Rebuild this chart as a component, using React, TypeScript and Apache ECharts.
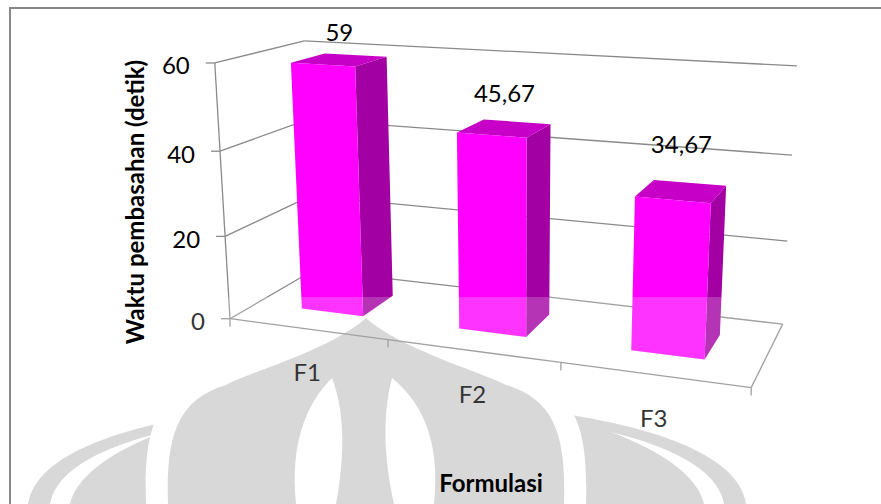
import React, { useEffect, useRef } from "react";
import * as echarts from "echarts";

// ---------- data ----------
const categories = ["F1", "F2", "F3"];
const values = [59, 45.67, 34.67];
const yTicks = [0, 20, 40, 60];
const yMax = 60;
const xTitle = "Formulasi";
const yTitle = "Waktu pembasahan (detik)";

// ---------- 3D camera calibration (normalized box corners -> screen px) ----------
// [X (0..1 along categories), Y (0..1 of value range), Z (0 front .. 1 back), u, v]
const CALIB: number[][] = [
  [0, 0, 0, 230, 319],
  [0, 1, 0, 217, 63],
  [0, 2 / 3, 0, 219, 151],
  [0, 1 / 3, 0, 224, 236],
  [0, 0, 1, 315, 270],
  [0, 1, 1, 303, 41],
  [1, 1, 1, 797, 66],
  [1, 2 / 3, 1, 792, 155],
  [1, 1 / 3, 1, 788, 241],
  [1, 0, 1, 782, 324],
  [1, 0, 0, 751, 388],
  [1 / 3, 0, 0, 388, 340],
  [2 / 3, 0, 0, 561, 362],
];

const BAR_WIDTH = 0.4; // fraction of a category band
const BAR_Z0 = 0.3;
const BAR_Z1 = 0.7;

function solveProjection(pts: number[][]) {
  const n = 11;
  const M = Array.from({ length: n }, () => new Array(n + 1).fill(0));
  const addRow = (row: number[], r: number) => {
    for (let i = 0; i < n; i++) {
      for (let j = 0; j < n; j++) M[i][j] += row[i] * row[j];
      M[i][n] += row[i] * r;
    }
  };
  for (const [X, Y, Z, u, v] of pts) {
    addRow([X, Y, Z, 1, 0, 0, 0, 0, -u * X, -u * Y, -u * Z], u);
    addRow([0, 0, 0, 0, X, Y, Z, 1, -v * X, -v * Y, -v * Z], v);
  }
  for (let c = 0; c < n; c++) {
    let p = c;
    for (let r = c + 1; r < n; r++) if (Math.abs(M[r][c]) > Math.abs(M[p][c])) p = r;
    const tmp = M[c]; M[c] = M[p]; M[p] = tmp;
    for (let r = 0; r < n; r++) {
      if (r === c) continue;
      const f = M[r][c] / M[c][c];
      for (let j = c; j <= n; j++) M[r][j] -= f * M[c][j];
    }
  }
  return M.map((row, i) => row[n] / row[i]);
}
const PM = solveProjection(CALIB);
function proj(X: number, Y: number, Z: number): number[] {
  const w = PM[8] * X + PM[9] * Y + PM[10] * Z + 1;
  return [
    (PM[0] * X + PM[1] * Y + PM[2] * Z + PM[3]) / w,
    (PM[4] * X + PM[5] * Y + PM[6] * Z + PM[7]) / w,
  ];
}

const LINE = "#8a8a8a";
const FONT = "Lato";

// ---------- watermark shapes ----------
const WM: { name: string; d: string; fill: string }[] = [
  { name: "wmL3", d: "M28 504 C38 440 180 405 387 400 C594 405 736 440 746 504 Z", fill: "#cfcfcf" },
  { name: "wmG2", d: "M50 504 C60 445 195 412 387 408 C579 412 714 445 724 504 Z", fill: "#ffffff" },
  { name: "wmL2", d: "M70 504 C82 450 210 400 387 392 C564 400 692 450 704 504 Z", fill: "#cfcfcf" },
  { name: "wmG1", d: "M146 504 C144 436 152 392 210 374 C236 362 318 330 366 296 C414 330 496 362 522 374 C580 392 588 436 586 504 Z", fill: "#ffffff" },
  { name: "wmD1", d: "M168 504 C166 440 175 400 226 385 C250 372 330 350 366 318 C402 350 482 372 506 385 C557 400 566 440 564 504 Z", fill: "#cfcfcf" },
  { name: "wmW1", d: "M332 378 C305 405 290 445 296 504 L336 504 C344 460 346 415 332 378 Z", fill: "#ffffff" },
  { name: "wmW2", d: "M392 378 C382 415 384 460 394 504 L434 504 C440 445 425 405 392 378 Z", fill: "#ffffff" },
];
let registered = false;
function registerWM() {
  if (registered) return;
  registered = true;
  for (const s of WM) {
    echarts.graphic.registerShape(s.name, echarts.graphic.extendPath(s.d, {}) as any);
  }
}

function fmt(v: number) {
  return String(v).replace(".", ",");
}

export default function App() {
  const ref = useRef<HTMLDivElement>(null);
  useEffect(() => {
    if (!ref.current) return;
    registerWM();
    const chart = echarts.init(ref.current, undefined, { renderer: "svg" });

    const norm = (params: any, api: any, cat: number, val: number) => {
      const cs = params.coordSys;
      const c = api.coord([cat, val]);
      const b = api.coord([cat, 0]);
      return { X: (c[0] - cs.x) / cs.width, Y: (b[1] - c[1]) / cs.height, px: c, cs };
    };

    const option: any = {
      animation: false,
      backgroundColor: "#ffffff",
      grid: { left: 100, width: 600, top: 26.4, height: 276.2, show: false },
      xAxis: { type: "category", data: categories, show: false },
      yAxis: { type: "value", min: 0, max: yMax, interval: 20, show: false },
      graphic: [
        ...WM.map((s) => ({ type: s.name, x: 0, y: 0, z: 0, silent: true, style: { fill: s.fill } })),
        {
          type: "rect", z: 50, silent: true,
          shape: { x: 0, y: 297, width: 861, height: 220 },
          style: { fill: "rgba(255,255,255,0.2)" },
        },
        {
          type: "rect", z: 60, silent: true,
          shape: { x: 10, y: 8, width: 1000, height: 1000 },
          style: { fill: "none", stroke: "#878787", lineWidth: 2 },
        },
        {
          type: "text", z: 60, x: 134, y: 202, rotation: Math.PI / 2,
          style: { text: yTitle, fill: "#000", font: `bold 24px ${FONT}`, textAlign: "center", textVerticalAlign: "middle" },
        },
        {
          type: "text", z: 60, x: 491, y: 482,
          style: { text: xTitle, fill: "#000", font: `bold 24px ${FONT}`, textAlign: "center", textVerticalAlign: "middle" },
        },
      ],
      series: [
        {
          // walls: gridlines, value axis, ticks & labels
          type: "custom", z: 2, clip: false,
          data: yTicks.map((t) => [0, t]),
          renderItem: (params: any, api: any) => {
            const t = api.value(1);
            const { Y } = norm(params, api, 0, t);
            const band = api.size([1, 0])[0];
            const X0 = 0;
            void band;
            const f = proj(X0, Y, 0);
            const bl = proj(X0, Y, 1);
            const br = proj(1, Y, 1);
            const children: any[] = [
              { type: "line", shape: { x1: f[0], y1: f[1], x2: bl[0], y2: bl[1] }, style: { stroke: LINE, lineWidth: 1.3 } },
              { type: "line", shape: { x1: bl[0], y1: bl[1], x2: br[0], y2: br[1] }, style: { stroke: LINE, lineWidth: 1.3 } },
              { type: "line", shape: { x1: f[0] - 9, y1: f[1], x2: f[0], y2: f[1] }, style: { stroke: LINE, lineWidth: 1.3 } },
              {
                type: "text",
                style: { text: String(t), x: f[0] - 25, y: f[1] + 2, fill: "#000", font: `24px ${FONT}`, textAlign: "right", textVerticalAlign: "middle" },
              },
            ];
            if (t === 0) {
              const topY = norm(params, api, 0, yMax).Y;
              const a = proj(0, 0, 0);
              const b = proj(0, topY, 0);
              children.push({ type: "line", shape: { x1: a[0], y1: a[1], x2: b[0], y2: b[1] }, style: { stroke: LINE, lineWidth: 1.3 } });
            }
            return { type: "group", children };
          },
        },
        {
          // floor: front edge, right edge, category ticks and labels
          type: "custom", z: 2, clip: false,
          data: categories.map((c, i) => [i, 0]),
          renderItem: (params: any, api: any) => {
            const i = api.value(0);
            const cs = params.coordSys;
            const c = api.coord([i, 0]);
            const band = api.size([1, 0])[0];
            const xl = (c[0] - band / 2 - cs.x) / cs.width;
            const xr = (c[0] + band / 2 - cs.x) / cs.width;
            const xc = (c[0] - cs.x) / cs.width;
            const l = proj(xl, 0, 0);
            const r = proj(xr, 0, 0);
            const m = proj(xc, 0, 0);
            const children: any[] = [
              { type: "line", shape: { x1: l[0], y1: l[1], x2: r[0], y2: r[1] }, style: { stroke: LINE, lineWidth: 1.3 } },
              { type: "line", shape: { x1: l[0], y1: l[1], x2: l[0], y2: l[1] + 8 }, style: { stroke: LINE, lineWidth: 1.3 } },
              {
                type: "text",
                style: { text: categories[i], x: m[0], y: m[1] + 43, fill: "#000", font: `24px ${FONT}`, textAlign: "center", textVerticalAlign: "middle" },
              },
            ];
            if (i === categories.length - 1) {
              const rb = proj(xr, 0, 1);
              children.push({ type: "line", shape: { x1: r[0], y1: r[1], x2: r[0], y2: r[1] + 8 }, style: { stroke: LINE, lineWidth: 1.3 } });
              children.push({ type: "line", shape: { x1: r[0], y1: r[1], x2: rb[0], y2: rb[1] }, style: { stroke: LINE, lineWidth: 1.3 } });
            }
            return { type: "group", children };
          },
        },
        {
          // 3D bars
          type: "custom", z: 3, clip: false,
          data: values.map((v, i) => [i, v]),
          renderItem: (params: any, api: any) => {
            const i = api.value(0);
            const v = api.value(1);
            const { X, Y, px, cs } = norm(params, api, i, v);
            const band = api.size([1, 0])[0];
            const hw = (band * BAR_WIDTH) / 2 / cs.width;
            const x0 = X - hw, x1 = X + hw;
            const z0 = BAR_Z0, z1 = BAR_Z1;
            const front = [proj(x0, 0, z0), proj(x1, 0, z0), proj(x1, Y, z0), proj(x0, Y, z0)];
            const side = [proj(x1, 0, z0), proj(x1, 0, z1), proj(x1, Y, z1), proj(x1, Y, z0)];
            const top = [proj(x0, Y, z0), proj(x1, Y, z0), proj(x1, Y, z1), proj(x0, Y, z1)];
            const lx = (top[0][0] + top[1][0] + top[2][0] + top[3][0]) / 4;
            return {
              type: "group",
              children: [
                { type: "polygon", shape: { points: side }, style: { fill: "#a300a3" } },
                { type: "polygon", shape: { points: top }, style: { fill: "#c600c6" } },
                { type: "polygon", shape: { points: front }, style: { fill: "#ff00ff" } },
                {
                  type: "text",
                  style: { text: fmt(v), x: lx, y: px[1], fill: "#000", font: `24px ${FONT}`, textAlign: "center", textVerticalAlign: "middle" },
                },
              ],
            };
          },
        },
      ],
    };
    chart.setOption(option);
    return () => chart.dispose();
  }, []);
  return <div ref={ref} style={{ position: "fixed", left: 0, top: 0, width: 881, height: 504 }} />;
}
